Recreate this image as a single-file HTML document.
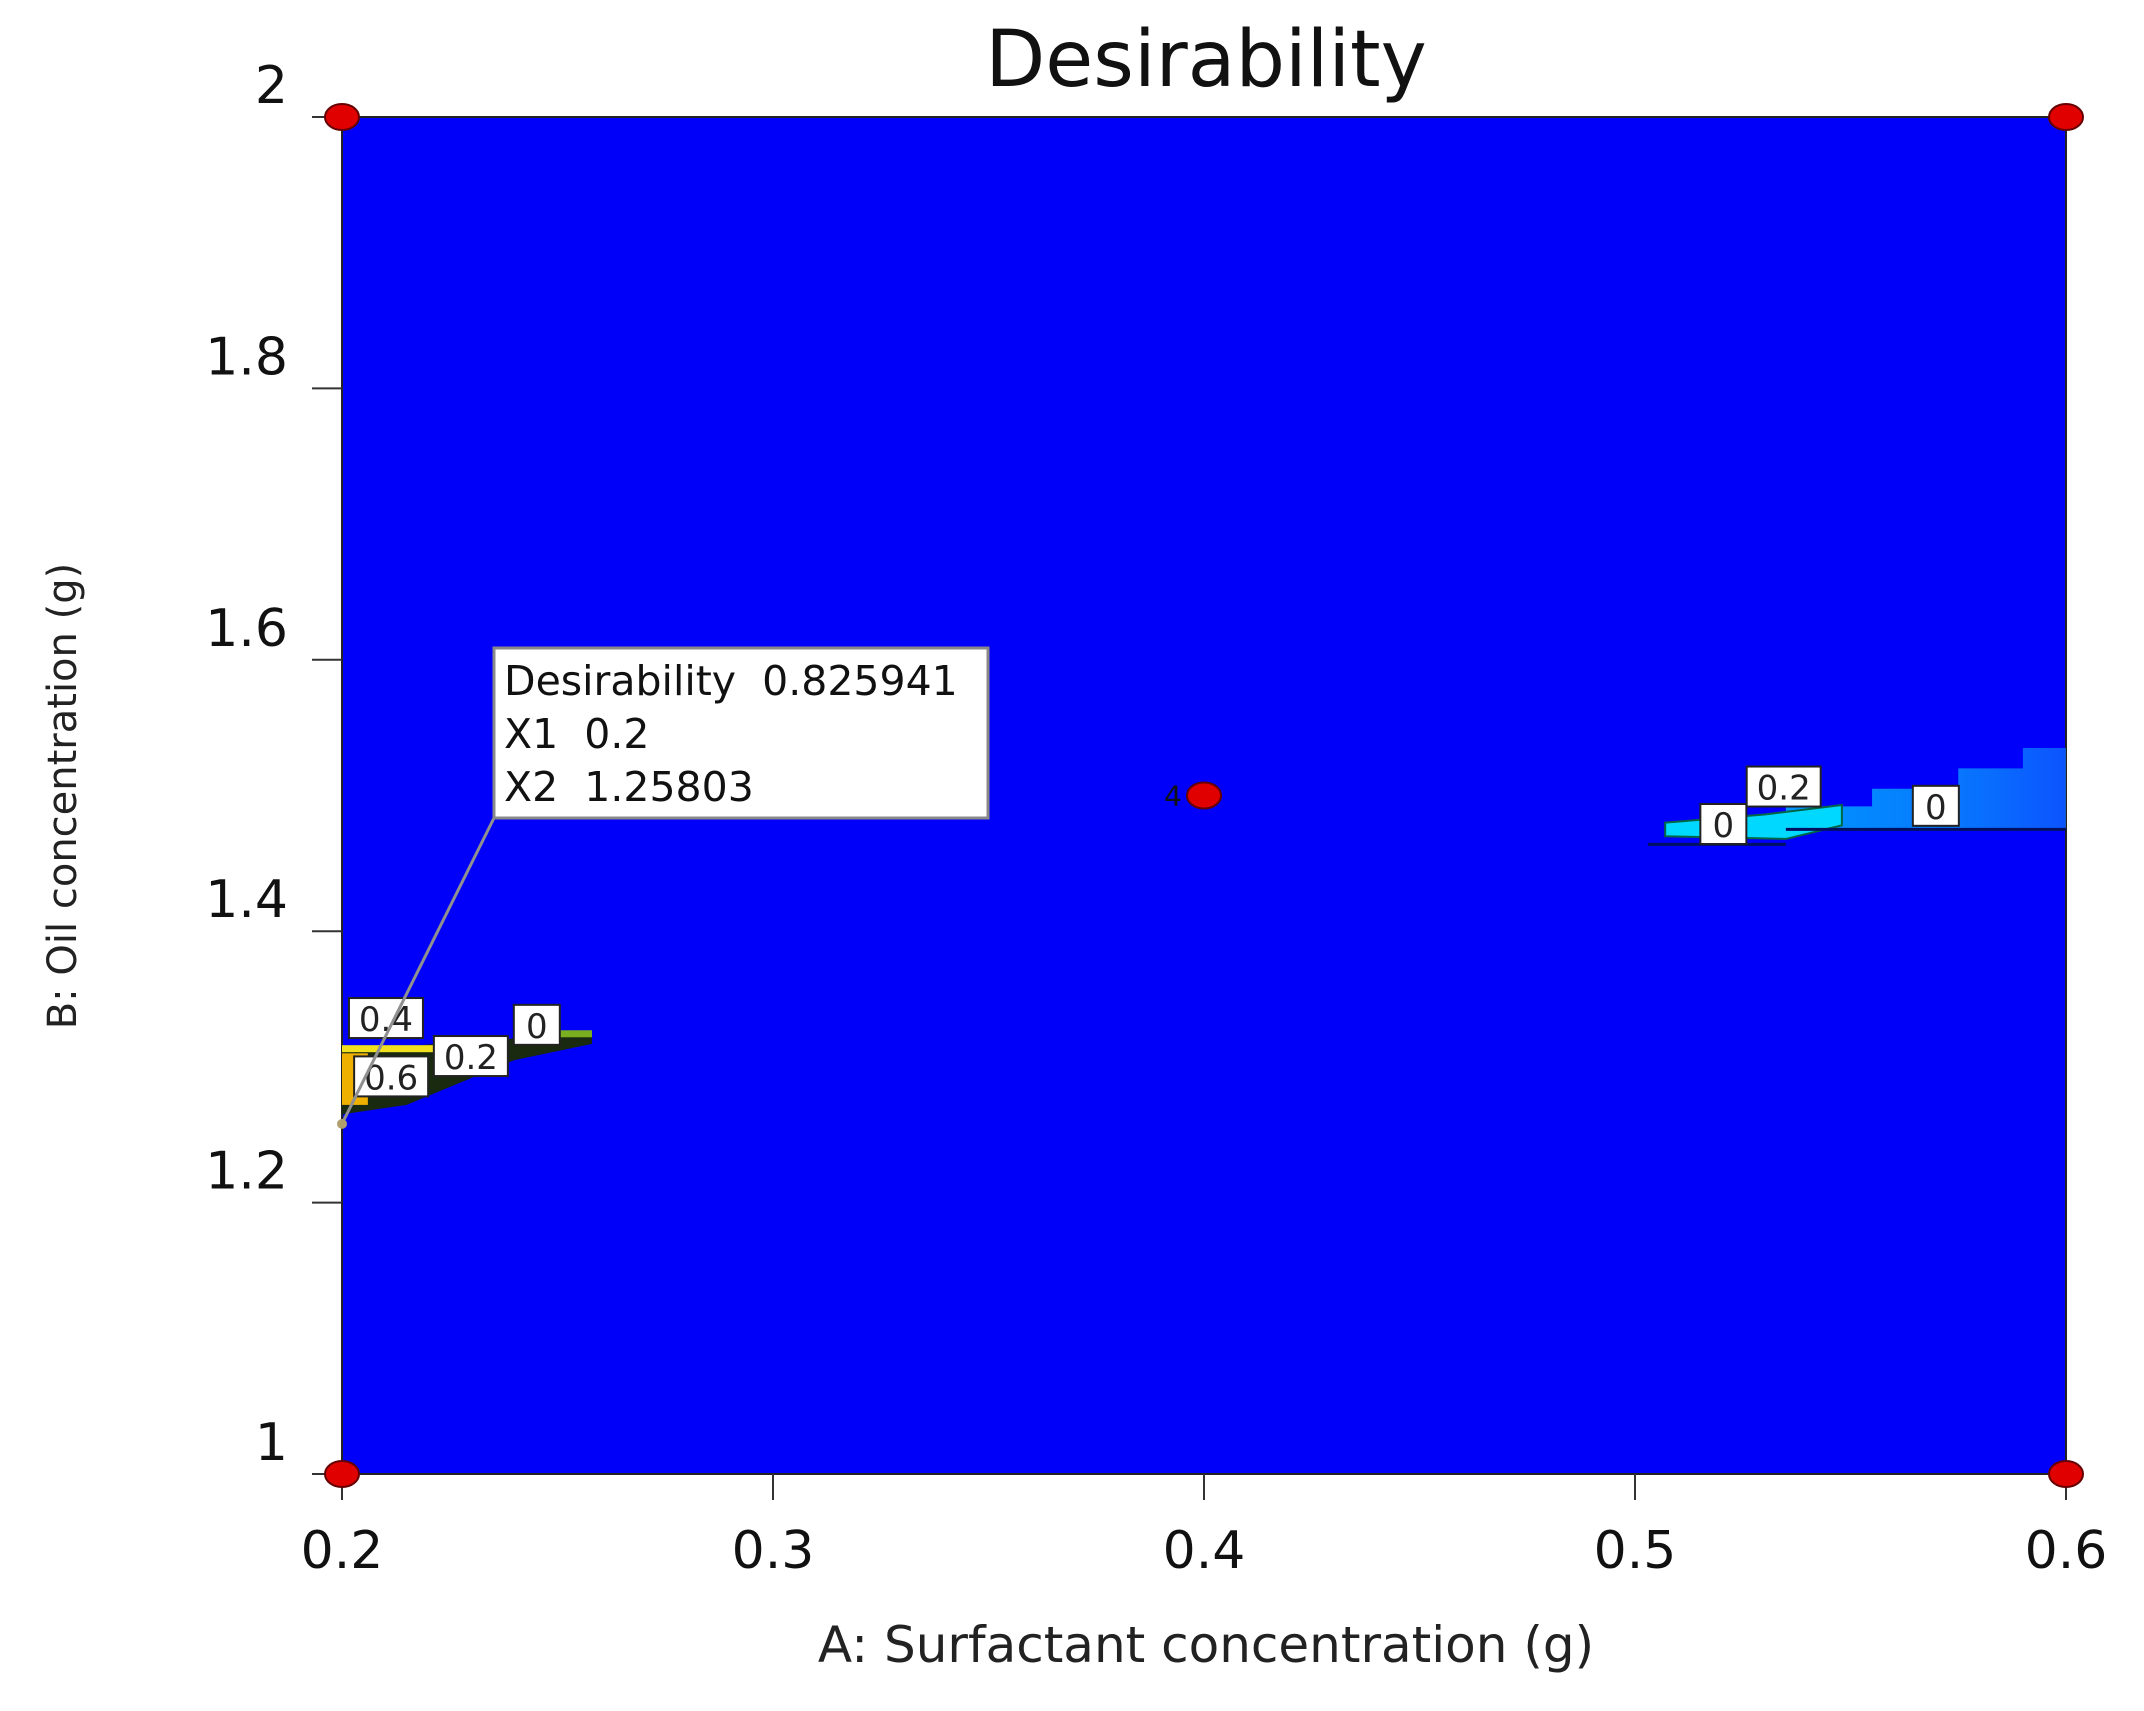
<!DOCTYPE html>
<html><head><meta charset="utf-8"><style>
html,body{margin:0;padding:0;background:#fff;}
svg text{font-family:"DejaVu Sans","Liberation Sans",sans-serif;}
</style></head><body>
<svg id="chart" width="2144" height="1706" viewBox="0 0 2144 1706" xmlns="http://www.w3.org/2000/svg">
<defs>
<linearGradient id="gr" x1="0" y1="0" x2="1" y2="0">
<stop offset="0" stop-color="#00c8ff"/><stop offset="0.6" stop-color="#0aa0ff"/><stop offset="1" stop-color="#1070ff"/>
</linearGradient>
</defs>
<text x="1206" y="86" font-size="78" text-anchor="middle" fill="#111">Desirability</text>
<g id="plot"></g>
<text x="1206" y="1662" font-size="50" text-anchor="middle" fill="#222">A: Surfactant concentration (g)</text>
<text transform="translate(76,796) rotate(-90)" font-size="40" text-anchor="middle" fill="#222">B: Oil concentration (g)</text>
</svg>
<script>
const xTicks=[0.2,0.3,0.4,0.5,0.6];
const xTickLabels=["0.2","0.3","0.4","0.5","0.6"];
const yTicks=[1,1.2,1.4,1.6,1.8,2];
const yTickLabels=["1","1.2","1.4","1.6","1.8","2"];
const designA=[0.2,0.6,0.2,0.6,0.4];
const designB=[1,1,2,2,1.5];
const designLabels=["","","","","4"];
const contourA=[0.2102,0.2114,0.2299,0.2452,0.5205,0.5345,0.5698];
const contourB=[1.336,1.293,1.308,1.331,1.479,1.5066,1.4924];
const contourLabels=["0.4","0.6","0.2","0","0","0.2","0"];
const optA=0.2, optB=1.25803, optD=0.825941;

const X0=342,X1=2066,Y0=1474,Y1=117;
const xs=a=>X0+(a-0.2)/0.4*(X1-X0);
const ys=b=>Y0-(b-1)/1*(Y0-Y1);
const NS="http://www.w3.org/2000/svg";
const g=document.getElementById('plot');
function mk(t,at,parent){const e=document.createElementNS(NS,t);for(const k in at)e.setAttribute(k,at[k]);(parent||g).appendChild(e);return e;}

let bg=mk('rect',{x:X0,y:Y1,width:X1-X0,height:Y0-Y1,fill:'#0000fa',stroke:'#222','stroke-width':2});



const stepA=[0.535,0.555,0.575,0.59,0.6];
const stepB=[1.492,1.505,1.52,1.535,1.545];
let d=`M${xs(0.535)},${ys(1.475)} `;
for(let i=0;i<stepA.length-1;i++){d+=`L${xs(stepA[i])},${ys(stepB[i])} L${xs(stepA[i+1])},${ys(stepB[i])} `;}
d+=`L${xs(0.6)},${ys(1.545)} L${xs(0.6)},${ys(1.475)} Z`;
let r1=mk('path',{d:d,fill:'url(#gr)',opacity:0.75});


let r2=mk('path',{d:`M${xs(0.507)},${ys(1.47)} L${xs(0.507)},${ys(1.48)} L${xs(0.53)},${ys(1.486)} L${xs(0.548)},${ys(1.493)} L${xs(0.548)},${ys(1.478)} L${xs(0.535)},${ys(1.468)} Z`,fill:'#00d8ff',stroke:'#064',"stroke-width":2});


let l1=mk('line',{x1:xs(0.535),y1:ys(1.475),x2:xs(0.6),y2:ys(1.475),stroke:'#001060','stroke-width':3});


let l2=mk('line',{x1:xs(0.503),y1:ys(1.464),x2:xs(0.535),y2:ys(1.464),stroke:'#001060','stroke-width':3});



let lr1=mk('path',{d:`M${xs(0.2)},${ys(1.265)} L${xs(0.2)},${ys(1.312)} L${xs(0.258)},${ys(1.325)} L${xs(0.258)},${ys(1.317)} L${xs(0.24)},${ys(1.305)} L${xs(0.215)},${ys(1.272)} Z`,fill:'#1a2a10'});


let lr2=mk('rect',{x:xs(0.2),y:ys(1.31),width:xs(0.206)-xs(0.2),height:ys(1.272)-ys(1.31),fill:'#f0b000'});


let lr3=mk('rect',{x:xs(0.2),y:ys(1.316),width:xs(0.228)-xs(0.2),height:7,fill:'#f0e020'});


let lr4=mk('rect',{x:xs(0.245),y:ys(1.327),width:xs(0.258)-xs(0.245),height:7,fill:'#7ab020'});



xTicks.forEach((v,i)=>{
  const t=mk('line',{x1:xs(v),y1:Y0,x2:xs(v),y2:Y0+26,stroke:'#333','stroke-width':2});
  
  
  const tx=mk('text',{x:xs(v),y:Y0+94,'font-size':52,'text-anchor':'middle',fill:'#111'});
  tx.textContent=xTickLabels[i];
  
  
});
yTicks.forEach((v,i)=>{
  const t=mk('line',{x1:X0-30,y1:ys(v),x2:X0,y2:ys(v),stroke:'#333','stroke-width':2});
  
  
  const tx=mk('text',{x:288,y:ys(v)-14,'font-size':52,'text-anchor':'end',fill:'#111'});
  tx.textContent=yTickLabels[i];
  
  
});

contourA.forEach((a,i)=>{
  const cx=xs(a),cy=ys(contourB[i]);
  const w=contourLabels[i].length>1?74:46;
  const b=mk('rect',{x:cx-w/2,y:cy-20,width:w,height:40,fill:'#fff',stroke:'#222','stroke-width':2});
  
  
  const t=mk('text',{x:cx,y:cy+13,'font-size':34,'text-anchor':'middle',fill:'#222'});
  t.textContent=contourLabels[i];
  
  
});

designA.forEach((a,i)=>{
  const c=mk('ellipse',{cx:xs(a),cy:ys(designB[i]),rx:17,ry:13,fill:'#e00000',stroke:'#600','stroke-width':2});
  
  
  if(designLabels[i]){
    const t=mk('text',{x:xs(a)-40,y:ys(designB[i])+10,'font-size':28,fill:'#111'});
    t.textContent=designLabels[i];
    
    
  }
});

const ox=xs(optA),oy=ys(optB);
const bx=494,by=648,bw=494,bh=170;
const ln=mk('line',{x1:ox,y1:oy,x2:bx,y2:by+bh,stroke:'#909090','stroke-width':3});


const op=mk('circle',{cx:ox,cy:oy,r:5,fill:'#b0a070'});


const tb=mk('rect',{x:bx,y:by,width:bw,height:bh,fill:'#fff',stroke:'#888','stroke-width':3});


const lines=[["Desirability",String(optD)],["X1",String(optA)],["X2",String(optB)]];
lines.forEach((p,i)=>{
  const t=mk('text',{x:bx+10,y:by+47+i*53,'font-size':41,fill:'#111'});
  t.textContent=p[0]+'\u00a0\u00a0'+p[1];
  
  
});
</script>
</body></html>
